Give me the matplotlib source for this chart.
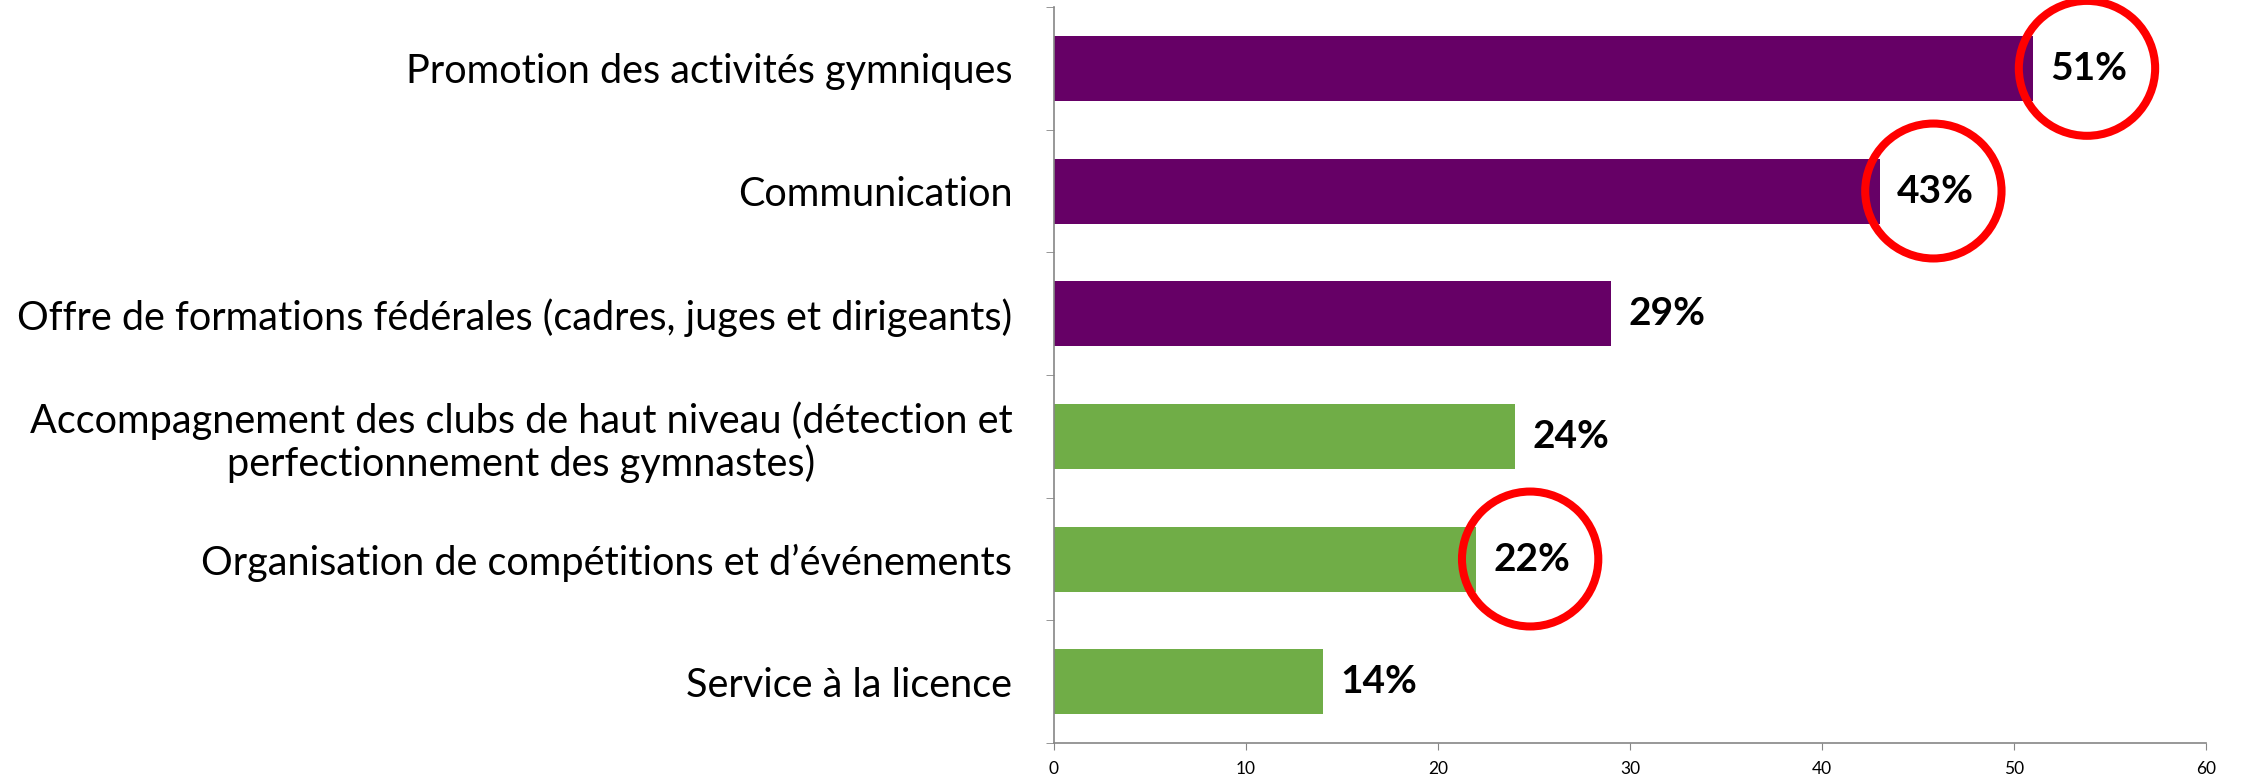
import matplotlib.pyplot as plt
from matplotlib.patches import Ellipse

# Data
categories = [
    "Promotion des activités gymniques",
    "Communication",
    "Offre de formations fédérales (cadres, juges et dirigeants)",
    "Accompagnement des clubs de haut niveau (détection et\nperfectionnement des gymnastes)",
    "Organisation de compétitions et d\u2019événements",
    "Service à la licence",
]
values = [51, 43, 29, 24, 22, 14]
groups = ["top", "top", "top", "other", "other", "other"]
circled = [True, True, False, False, True, False]

colors = {"top": "#660066", "other": "#70AD47"}

plt.rcParams['font.family'] = ["Lato", "DejaVu Sans"]

fig = plt.figure(figsize=(22.41, 7.79), dpi=100)
ax = fig.add_axes([0.4703, 0.0462, 0.5141, 0.9448])

y = list(range(len(categories)))
ax.barh(y, values, height=0.53, color=[colors[g] for g in groups])

# value labels + red circles around the highlighted ones
for i, v in enumerate(values):
    ax.text(v + 0.9, i, f"{v}%", va="center", ha="left",
            fontsize=28, fontweight="bold", color="black")
    if circled[i]:
        ax.add_patch(Ellipse((v + 2.8, i), width=7.1, height=1.1, fill=False,
                             edgecolor="#FF0000", linewidth=5.8, clip_on=False))

ax.set_xlim(0, 60)
ax.set_ylim(len(categories) - 0.5, -0.5)
ax.set_xticks(range(0, 61, 10))
ax.tick_params(axis="x", labelsize=12.5, length=5, color="#868686", pad=8)

ax.set_yticks(y)
ax.set_yticklabels(categories, fontsize=28.5, multialignment="center",
                   linespacing=1.15)
ax.set_yticks([i - 0.5 for i in range(len(categories) + 1)], minor=True)
ax.tick_params(axis="y", which="major", length=0, pad=30)
ax.tick_params(axis="y", which="minor", length=6, color="#868686")

for s in ["top", "right"]:
    ax.spines[s].set_visible(False)
for s in ["left", "bottom"]:
    ax.spines[s].set_color("#868686")
    ax.spines[s].set_linewidth(1.2)

fig.savefig("out.png", dpi=100)
